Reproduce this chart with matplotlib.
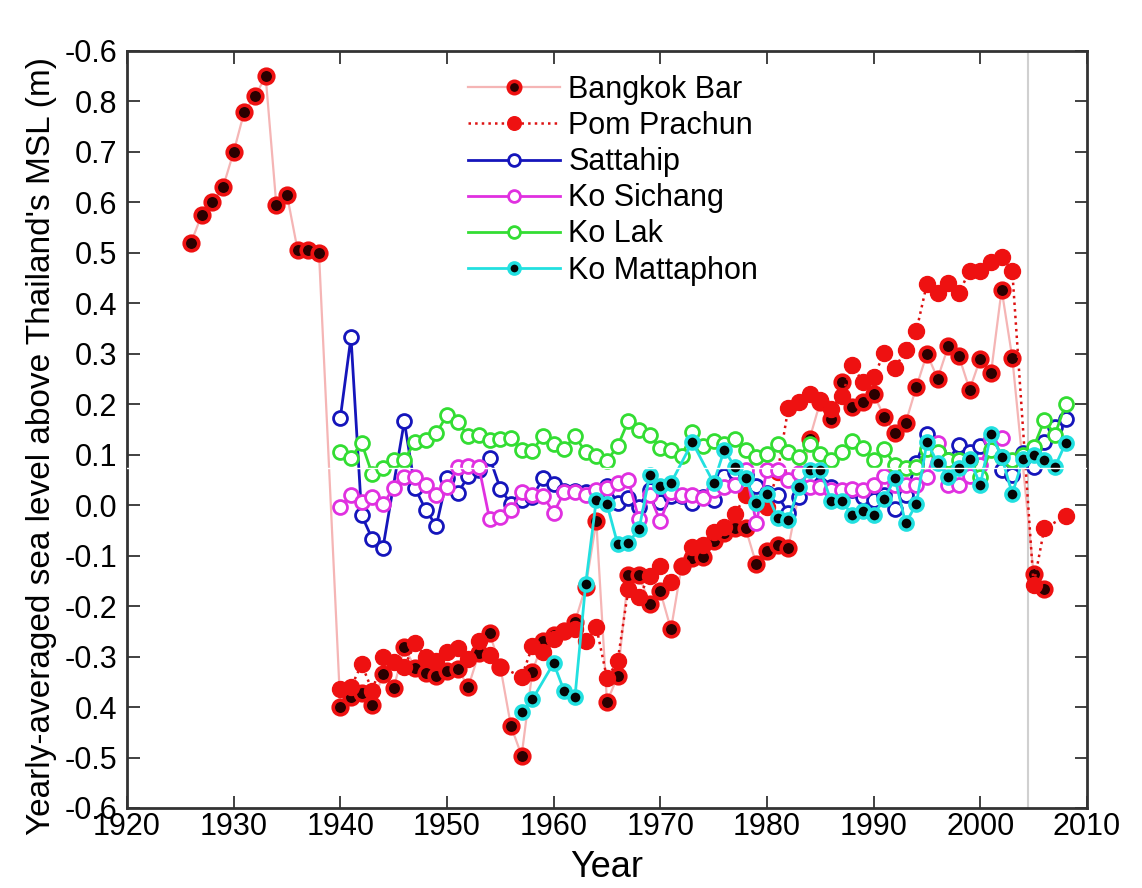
import numpy as np
import matplotlib
matplotlib.use('Agg')
import matplotlib.pyplot as plt

plt.rcParams['font.family'] = ['Liberation Sans', 'DejaVu Sans']

# Bangkok Bar
bb_years = [1926, 1927, 1928, 1929, 1930, 1931, 1932, 1933, 1934, 1935, 1936, 1937, 1938,
            1940, 1941, 1942, 1943, 1944, 1945, 1946, 1947, 1948, 1949, 1950, 1951, 1952,
            1953, 1954, 1955, 1956, 1957, 1958, 1959, 1960, 1961, 1962, 1963, 1964, 1965,
            1966, 1967, 1968, 1969, 1970, 1971, 1972, 1973, 1974, 1975, 1976, 1977, 1978,
            1979, 1980, 1981, 1982, 1984, 1985, 1986, 1987, 1988, 1989, 1990, 1991, 1992,
            1993, 1994, 1995, 1996, 1997, 1998, 1999, 2000, 2001, 2002, 2003, 2005, 2006]
bb_vals = [0.52, 0.575, 0.60, 0.63, 0.70, 0.78, 0.81, 0.85, 0.595, 0.615, 0.505, 0.505, 0.50,
           -0.40, -0.38, -0.372, -0.396, -0.335, -0.363, -0.281, -0.322, -0.332, -0.339, -0.328, -0.324, -0.36,
           -0.293, -0.254, -0.32, -0.438, -0.496, -0.33, -0.27, -0.257, -0.249, -0.231, -0.162, -0.032, -0.39,
           -0.339, -0.139, -0.139, -0.195, -0.171, -0.246, -0.12, -0.104, -0.102, -0.07, -0.055, -0.046, -0.046,
           -0.117, -0.091, -0.079, -0.084, 0.132, 0.205, 0.17, 0.244, 0.195, 0.205, 0.22, 0.175, 0.144,
           0.163, 0.234, 0.30, 0.251, 0.315, 0.295, 0.229, 0.29, 0.261, 0.427, 0.292, -0.137, -0.167]

# Pom Prachun
pp_years = [1940, 1941, 1942, 1943, 1944, 1945, 1946, 1947, 1948, 1949, 1950, 1951, 1952,
            1953, 1954, 1955, 1957, 1958, 1959, 1960, 1961, 1962, 1963, 1964, 1965, 1966,
            1967, 1968, 1969, 1970, 1971, 1972, 1973, 1974, 1975, 1976, 1977, 1978, 1980,
            1981, 1982, 1983, 1984, 1985, 1986, 1987, 1988, 1989, 1990, 1991, 1992, 1993,
            1994, 1995, 1996, 1997, 1998, 1999, 2000, 2001, 2002, 2003, 2005, 2006, 2008]
pp_vals = [-0.365, -0.361, -0.315, -0.368, -0.30, -0.31, -0.32, -0.274, -0.30, -0.309, -0.29, -0.283, -0.304,
           -0.27, -0.297, -0.32, -0.34, -0.28, -0.29, -0.265, -0.25, -0.245, -0.27, -0.241, -0.343, -0.309,
           -0.167, -0.181, -0.14, -0.12, -0.152, -0.121, -0.083, -0.078, -0.053, -0.044, -0.018, 0.02, -0.003,
           0.065, 0.193, 0.205, 0.221, 0.208, 0.191, 0.216, 0.277, 0.244, 0.254, 0.302, 0.272, 0.307,
           0.345, 0.439, 0.42, 0.44, 0.42, 0.465, 0.464, 0.482, 0.492, 0.464, -0.158, -0.046, -0.022]

# Sattahip
st_years = [1940, 1941, 1942, 1943, 1944, 1946, 1947, 1948, 1949, 1950, 1951, 1952, 1953,
            1954, 1955, 1956, 1957, 1958, 1959, 1960, 1961, 1962, 1963, 1964, 1965, 1966,
            1967, 1968, 1969, 1970, 1971, 1972, 1973, 1974, 1975, 1976, 1977, 1978, 1979,
            1980, 1981, 1982, 1983, 1984, 1985, 1986, 1987, 1988, 1989, 1990, 1991, 1992,
            1993, 1994, 1995, 1996, 1997, 1998, 1999, 2000, 2001, 2002, 2003, 2004, 2005,
            2006, 2007, 2008]
st_vals = [0.173, 0.333, -0.02, -0.067, -0.084, 0.166, 0.034, -0.009, -0.041, 0.053, 0.024, 0.057, 0.07,
           0.094, 0.033, 0.002, 0.01, 0.016, 0.053, 0.042, 0.028, 0.028, 0.026, 0.02, 0.038, 0.005,
           0.015, -0.003, 0.031, 0.007, 0.018, 0.018, 0.005, 0.016, 0.011, 0.057, 0.066, 0.06, 0.038,
           0.024, 0.02, -0.016, 0.016, 0.055, 0.04, 0.036, 0.023, 0.03, 0.016, 0.01, 0.02, -0.007,
           0.02, 0.084, 0.141, 0.106, 0.09, 0.119, 0.106, 0.117, 0.13, 0.07, 0.059, 0.104, 0.075,
           0.125, 0.155, 0.17]

# Ko Sichang
ks_years = list(range(1940, 2003))
ks_vals = [-0.003, 0.02, 0.007, 0.016, 0.002, 0.034, 0.056, 0.055, 0.04, 0.02,
           0.036, 0.075, 0.077, 0.075, -0.028, -0.023, -0.009, 0.026, 0.02, 0.019,
           -0.015, 0.026, 0.026, 0.02, 0.03, 0.035, 0.043, 0.05, -0.028, 0.02,
           -0.032, 0.026, 0.02, 0.02, 0.015, 0.03, 0.036, 0.04, 0.07, -0.035,
           0.07, 0.07, 0.05, 0.064, 0.036, 0.036, 0.03, 0.03, 0.033, 0.03,
           0.04, 0.057, 0.04, 0.04, 0.04, 0.056, 0.123, 0.04, 0.04, 0.057,
           0.08, 0.132, 0.134]

# Ko Lak
kl_years = list(range(1940, 2009))
kl_vals = [0.106, 0.094, 0.123, 0.061, 0.073, 0.09, 0.09, 0.125, 0.129, 0.143,
           0.178, 0.165, 0.137, 0.14, 0.129, 0.132, 0.133, 0.109, 0.108, 0.137,
           0.122, 0.112, 0.137, 0.105, 0.097, 0.088, 0.117, 0.167, 0.149, 0.139,
           0.114, 0.11, 0.097, 0.145, 0.117, 0.127, 0.122, 0.132, 0.109, 0.096,
           0.102, 0.122, 0.105, 0.096, 0.122, 0.101, 0.09, 0.106, 0.127, 0.114,
           0.09, 0.112, 0.079, 0.073, 0.075, 0.112, 0.106, 0.09, 0.09, 0.09,
           0.056, 0.11, 0.095, 0.09, 0.1, 0.115, 0.168, 0.14, 0.2]

# Ko Mattaphon
km_years = [1957, 1958, 1960, 1961, 1962, 1963, 1964, 1965, 1966, 1967, 1968, 1969, 1970,
            1971, 1973, 1975, 1976, 1977, 1978, 1979, 1980, 1981, 1982, 1983, 1984, 1985,
            1986, 1987, 1988, 1989, 1990, 1991, 1992, 1993, 1994, 1995, 1996, 1997, 1998,
            1999, 2000, 2001, 2002, 2003, 2004, 2005, 2006, 2007, 2008]
km_vals = [-0.409, -0.385, -0.313, -0.369, -0.38, -0.157, 0.011, 0.002, -0.077, -0.074, -0.048, 0.059, 0.038,
           0.044, 0.125, 0.044, 0.11, 0.075, 0.053, 0.005, 0.023, -0.025, -0.03, 0.036, 0.07, 0.07,
           0.009, 0.009, -0.02, -0.012, -0.02, 0.013, 0.053, -0.036, 0.002, 0.125, 0.084, 0.056, 0.074,
           0.092, 0.04, 0.142, 0.096, 0.022, 0.092, 0.099, 0.09, 0.076, 0.123]

y_ticks = np.round(np.arange(-0.6, 0.91, 0.1), 1)
y_tick_labels = ['-0.6', '-0.5', '0.4', '-0.3', '-0.2', '-0.1', '0.0', '0.1',
                 '0.2', '0.3', '0.4', '0.5', '0.6', '0.7', '0.8', '-0.6']
x_ticks = list(range(1920, 2011, 10))

fig = plt.figure(figsize=(11.42, 8.88), dpi=100)
ax = fig.add_axes([0.1112, 0.0901, 0.8406, 0.8525])

ax.axvline(2004.5, color='#d0d0d0', lw=1.5, zorder=1)

ax.plot(bb_years, bb_vals, '-', color='#f5b5b5', lw=1.6, marker='o', ms=10.5,
        mfc='#2a0000', mec='#ee1111', mew=2.6, label='Bangkok Bar', zorder=3)
ax.plot(pp_years, pp_vals, ':', color='#dd1111', lw=1.8, marker='o', ms=11.5,
        mfc='#ee1111', mec='#ee1111', mew=1, label='Pom Prachun', zorder=4)
ax.plot(st_years, st_vals, '-', color='#1515bb', lw=2, marker='o', ms=10,
        mfc='white', mec='#1515bb', mew=2, label='Sattahip', zorder=5)
ax.plot(ks_years, ks_vals, '-', color='#e030e0', lw=2, marker='o', ms=10,
        mfc='white', mec='#e030e0', mew=2, label='Ko Sichang', zorder=5)
ax.plot(kl_years, kl_vals, '-', color='#33dd33', lw=2, marker='o', ms=10,
        mfc='white', mec='#33dd33', mew=2, label='Ko Lak', zorder=5)
ax.plot(km_years, km_vals, '-', color='#22e0e0', lw=2, marker='o', ms=9.5,
        mfc='#050505', mec='#22e0e0', mew=2.5, label='Ko Mattaphon', zorder=6)

# thin white scan line across the plot
ax.axhline(0.073, color='white', lw=1.0, zorder=10)

ax.set_xlim(1920, 2010)
ax.set_ylim(-0.6, 0.9)
ax.set_xticks(x_ticks)
ax.set_yticks(y_ticks)
ax.set_yticklabels(y_tick_labels)
ax.tick_params(direction='in', length=9, width=1.3, labelsize=22, color='#333333',
               top=True, right=True)
ax.tick_params(axis='x', pad=3)
ax.tick_params(axis='y', pad=7)
for sp in ax.spines.values():
    sp.set_linewidth(2)
    sp.set_color('#333333')

ax.set_xlabel('Year', fontsize=26, labelpad=6)
ax.set_ylabel("Yearly-averaged sea level above Thailand's MSL (m)", fontsize=24)
ax.yaxis.set_label_coords(-0.073, 0.478)

leg = ax.legend(loc='upper left', bbox_to_anchor=(468 / 1142, 1 - 75 / 888), bbox_transform=fig.transFigure,
                frameon=False, fontsize=22, handlelength=3.0, handletextpad=0.28,
                labelspacing=0.2, borderpad=0, borderaxespad=0, markerscale=0.85)

fig.savefig('out.png', dpi=100)
